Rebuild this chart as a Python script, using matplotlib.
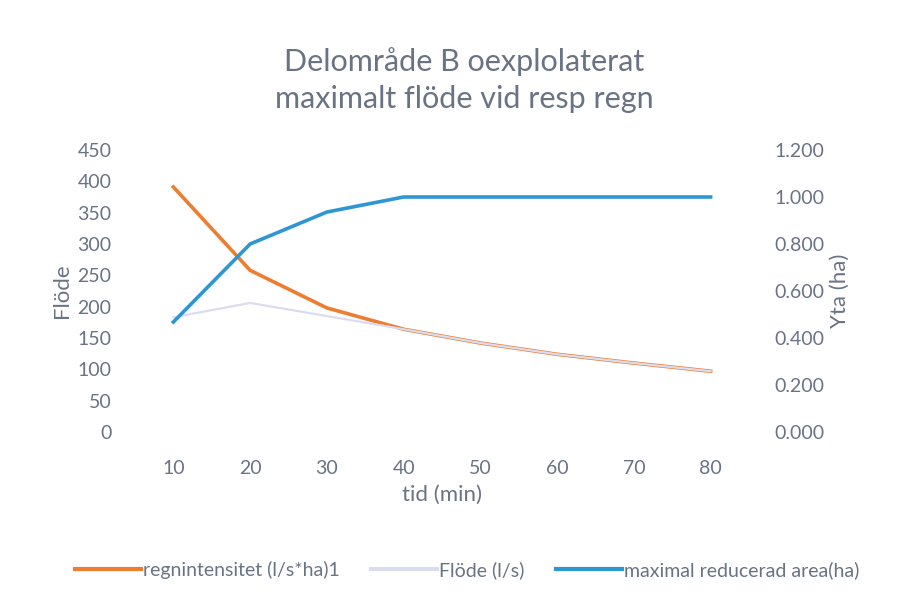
import matplotlib.pyplot as plt
from matplotlib.lines import Line2D

plt.rcParams['font.family'] = ['Lato', 'DejaVu Sans']

# Varaktighet (min) och avläsningar
tid = [10, 20, 30, 40, 50, 60, 70, 80]
regnintensitet = [391, 258, 198, 164, 142, 124, 110, 97]
area = [0.468, 0.80, 0.936, 1.0, 1.0, 1.0, 1.0, 1.0]
flode = [183, 206, 185, 164, 142, 124, 110, 97]

text_color = '#6a7384'
orange = '#ed7d31'
lavender = '#dcdcf0'
blue = '#2e96d2'

fig = plt.figure(figsize=(9.07, 5.94), dpi=100)
ax = fig.add_axes([135 / 907, 1 - 432 / 594, 614 / 907, 282 / 594])
ax2 = ax.twinx()

xpos = list(range(len(tid)))
ax.plot(xpos, regnintensitet, color=orange, lw=2.6, zorder=2)
ax.plot(xpos, flode, color=lavender, lw=1.6, zorder=3)
ax2.plot(xpos, area, color=blue, lw=2.6)

ax.set_xlim(-0.5, len(tid) - 0.5)
ax.set_ylim(0, 450)
ax.set_yticks(range(0, 451, 50))
ax2.set_ylim(0, 1.2)
ax2.set_yticks([0, 0.2, 0.4, 0.6, 0.8, 1.0, 1.2])
ax2.set_yticklabels([f'{v:.3f}' for v in [0, 0.2, 0.4, 0.6, 0.8, 1.0, 1.2]])
ax.set_xticks(xpos)
ax.set_xticklabels([str(t) for t in tid])

for a in (ax, ax2):
    for s in a.spines.values():
        s.set_visible(False)
    a.tick_params(length=0, colors=text_color, labelsize=14)
ax.tick_params(axis='y', pad=17)
ax.tick_params(axis='x', pad=20)
ax2.tick_params(axis='y', pad=18)

ax.set_ylabel('Flöde', color=text_color, fontsize=16, labelpad=4)
ax2.set_ylabel('Yta (ha)', color=text_color, fontsize=16, labelpad=4)
ax.set_xlabel('tid (min)', color=text_color, fontsize=16, labelpad=6)

fig.text(0.512, 1 - 80 / 594, 'Delområde B oexplolaterat\nmaximalt flöde vid resp regn',
         ha='center', va='center', fontsize=22, color=text_color, linespacing=1.4)

handles = [Line2D([], [], color=orange, lw=3),
           Line2D([], [], color=lavender, lw=3),
           Line2D([], [], color=blue, lw=3)]
labels = ['regnintensitet (l/s*ha)1', 'Flöde (l/s)', 'maximal reducerad area(ha)']
fig.legend(handles, labels, loc='center', bbox_to_anchor=(0.515, 1 - 570 / 594),
           ncol=3, frameon=False, fontsize=14, labelcolor=text_color,
           handlelength=3.4, handletextpad=0.1, columnspacing=1.6)

fig.savefig('out.png', dpi=100)
